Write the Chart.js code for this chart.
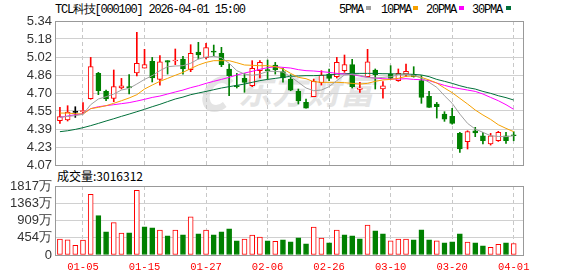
<!DOCTYPE html>
<html>
<head>
<meta charset="utf-8">
<script src="https://cdn.jsdelivr.net/npm/chart.js@4.4.1/dist/chart.umd.min.js"></script>
<style>
  body { margin: 0; background: #fff; }
  #wrap { position: relative; width: 578px; height: 276px; overflow: hidden; }
  .txt { position: absolute; white-space: nowrap; font-family: "Liberation Mono", monospace; font-size: 12px; line-height: 12px; letter-spacing: -1.2px; color: #000; }
  .sq { position: absolute; width: 5px; height: 4px; top: 6px; }
  #vol-title { position: absolute; left: 57px; top: 169px; font-family: "Noto Sans CJK SC", sans-serif; font-size: 12px; line-height: 14px; color: #000; }
  #mark { position: absolute; left: 238px; top: 70px; font-family: "Noto Sans CJK SC", sans-serif; font-weight: bold; font-size: 34px; line-height: 40px; color: #e4e4e4; font-style: italic; }
  #logo { position: absolute; left: 203px; top: 76px; width: 18px; height: 22px; border: 7px solid #e4e4e4; border-right-color: transparent; border-radius: 50%; transform: skewX(-15deg); }
  canvas { position: absolute; left: 0; }
</style>
</head>
<body>
<div id="wrap">
  <div id="logo"></div>
  <div id="mark">东方财富</div>
  <div class="txt" style="left:55px;top:4px">TCL科技[000100] 2026-04-01 15:00</div>
  <div class="txt" style="left:339px;top:4px">5PMA</div><div class="sq" style="left:366px;background:#a0a0a0"></div>
  <div class="txt" style="left:381px;top:4px">10PMA</div><div class="sq" style="left:413px;background:#f5a000"></div>
  <div class="txt" style="left:426px;top:4px">20PMA</div><div class="sq" style="left:459px;background:#ff00ff"></div>
  <div class="txt" style="left:472px;top:4px">30PMA</div><div class="sq" style="left:506px;background:#00703a"></div>
  <div id="vol-title">成交量:3016312</div>
  <canvas id="kline" width="578" height="176" style="top:0"></canvas>
  <canvas id="volume" width="578" height="106" style="top:170px"></canvas>
</div>
<script>
// trading days shown (60 bars)
const days = ['12-29','12-30','12-31','01-05','01-06','01-07','01-08','01-09','01-12','01-13',
  '01-14','01-15','01-16','01-19','01-20','01-21','01-22','01-23','01-26','01-27',
  '01-28','01-29','01-30','02-02','02-03','02-04','02-05','02-06','02-09','02-10',
  '02-11','02-12','02-13','02-24','02-25','02-26','02-27','03-02','03-03','03-04',
  '03-05','03-06','03-09','03-10','03-11','03-12','03-13','03-16','03-17','03-18',
  '03-19','03-20','03-23','03-24','03-25','03-26','03-27','03-30','03-31','04-01'];
const tickDays = ['01-05','01-15','01-27','02-06','02-26','03-10','03-20','04-01'];
const priceTicks = ['4.07','4.23','4.39','4.55','4.70','4.86','5.02','5.18','5.34'];
const volTicks = ['0','454万','909万','1363万','1817万'];
const volMax = 1817;

const open = [4.461,4.467,4.534,4.540,4.655,4.878,4.719,4.658,4.749,4.761,
  4.881,4.925,4.984,4.825,4.990,4.987,5.005,4.911,5.066,5.017,
  5.075,5.055,4.917,4.769,4.834,4.769,4.902,4.911,4.952,4.893,
  4.828,4.719,4.622,4.672,4.796,4.872,4.849,4.902,4.955,4.737,
  4.849,4.908,4.740,4.872,4.814,4.872,4.870,4.814,4.675,4.608,
  4.519,4.499,4.349,4.275,4.372,4.328,4.255,4.284,4.328,4.337];
const close = [4.496,4.537,4.534,4.549,4.937,4.725,4.652,4.761,4.769,4.749,
  4.966,4.955,4.837,4.981,4.978,4.996,4.917,5.055,5.040,5.105,
  5.066,4.955,4.858,4.761,4.799,4.922,4.975,4.902,4.911,4.837,
  4.731,4.637,4.572,4.808,4.864,4.834,4.975,4.955,4.761,4.749,
  4.981,4.867,4.769,4.834,4.878,4.896,4.850,4.666,4.578,4.584,
  4.475,4.437,4.211,4.364,4.352,4.284,4.328,4.358,4.284,4.328];
const high = [4.578,4.593,4.584,4.620,5.019,4.887,4.731,4.908,4.834,4.867,
  5.240,5.090,5.019,5.034,4.990,5.093,5.028,5.131,5.152,5.143,
  5.128,5.108,4.961,4.878,4.878,4.990,4.990,4.996,4.975,4.925,
  4.867,4.740,4.652,4.828,4.902,4.917,5.019,5.040,5.002,4.799,
  5.090,4.917,4.805,4.946,4.917,4.961,4.937,4.858,4.719,4.622,
  4.540,4.569,4.358,4.372,4.402,4.358,4.349,4.367,4.358,4.364];
const low = [4.437,4.458,4.490,4.520,4.650,4.690,4.637,4.628,4.740,4.696,
  4.855,4.925,4.802,4.775,4.872,4.955,4.872,4.893,5.005,5.005,
  5.034,4.937,4.681,4.749,4.711,4.761,4.837,4.828,4.872,4.800,
  4.725,4.608,4.572,4.672,4.775,4.814,4.837,4.887,4.749,4.711,
  4.849,4.740,4.660,4.825,4.808,4.849,4.845,4.614,4.578,4.484,
  4.455,4.431,4.181,4.211,4.320,4.255,4.246,4.278,4.260,4.284];

const ma5 = [4.490,4.499,4.505,4.517,4.602,4.652,4.672,4.696,4.731,4.746,
  4.784,4.825,4.858,4.902,4.937,4.943,4.946,4.967,5.005,5.022,
  5.028,5.017,4.967,4.902,4.872,4.861,4.872,4.896,4.896,4.890,
  4.849,4.799,4.749,4.725,4.731,4.761,4.814,4.864,4.872,4.861,
  4.843,4.837,4.843,4.849,4.864,4.867,4.861,4.837,4.799,4.755,
  4.681,4.614,4.519,4.437,4.387,4.358,4.328,4.322,4.320,4.328];
const ma10 = [4.528,4.528,4.522,4.519,4.567,4.578,4.593,4.614,4.637,4.661,
  4.690,4.740,4.775,4.808,4.834,4.861,4.887,4.920,4.952,4.975,
  4.990,4.990,4.990,4.972,4.952,4.949,4.946,4.946,4.937,4.917,
  4.878,4.843,4.831,4.805,4.799,4.799,4.799,4.796,4.790,4.784,
  4.790,4.808,4.820,4.825,4.834,4.852,4.855,4.843,4.820,4.793,
  4.749,4.708,4.658,4.608,4.555,4.511,4.472,4.425,4.393,4.364];
const ma20 = [4.490,4.502,4.514,4.522,4.567,4.584,4.593,4.602,4.611,4.620,
  4.634,4.649,4.666,4.678,4.696,4.714,4.731,4.752,4.769,4.790,
  4.808,4.825,4.843,4.864,4.881,4.896,4.914,4.928,4.937,4.931,
  4.925,4.911,4.902,4.899,4.893,4.887,4.878,4.872,4.867,4.855,
  4.843,4.837,4.831,4.828,4.828,4.831,4.825,4.822,4.814,4.793,
  4.772,4.755,4.743,4.731,4.719,4.696,4.666,4.637,4.602,4.561];
const ma30 = [4.364,4.372,4.384,4.399,4.417,4.437,4.458,4.478,4.499,4.519,
  4.540,4.561,4.584,4.605,4.629,4.652,4.669,4.690,4.705,4.719,
  4.734,4.749,4.761,4.772,4.784,4.799,4.814,4.825,4.834,4.843,
  4.852,4.855,4.858,4.858,4.861,4.864,4.872,4.875,4.878,4.878,
  4.878,4.878,4.875,4.875,4.872,4.872,4.869,4.864,4.849,4.825,
  4.808,4.790,4.769,4.752,4.740,4.719,4.702,4.681,4.664,4.643];

// volume in 万, and whether the bar is drawn as an up (red) bar
const vol = [417,399,257,390,1595,1037,612,851,576,585,
  1702,745,718,656,505,656,532,1002,558,656,
  532,612,691,372,417,523,470,372,363,399,
  346,452,292,736,443,319,656,532,505,425,
  789,638,558,372,417,417,399,665,399,372,
  319,346,558,337,319,239,204,284,319,302];
const volUp = [1,1,1,1,1,0,0,1,1,0,
  1,0,0,1,0,1,0,1,0,1,
  0,0,0,0,1,1,1,0,1,0,
  0,0,0,1,1,0,1,0,0,0,
  1,0,0,1,1,1,0,0,0,1,
  0,0,0,1,0,0,1,1,0,1];

const RED = '#ff0000', GREEN = '#008000';
const xMin = -0.64, xMax = 60.21;
const gridIdx = tickDays.map(d => days.indexOf(d));

Chart.defaults.animation = false;
Chart.defaults.events = [];
Chart.defaults.plugins.legend.display = false;
Chart.defaults.plugins.tooltip.enabled = false;

const frame = {
  id: 'frame',
  afterDraw(chart) {
    const a = chart.chartArea, c = chart.ctx;
    c.save();
    c.strokeStyle = '#999';
    c.lineWidth = 1;
    c.strokeRect(a.left + 0.5, a.top + 0.5, a.right - a.left, a.bottom - a.top);
    c.restore();
  }
};

function xScale(showLabels) {
  return {
    type: 'linear', min: xMin, max: xMax, offset: false,
    afterBuildTicks: s => { s.ticks = gridIdx.map(v => ({ value: v })); },
    grid: { color: '#c8c8c8', drawTicks: false, offset: false },
    border: { display: false, dash: [4, 3] },
    ticks: {
      display: showLabels, autoSkip: false, maxRotation: 0, padding: 6,
      color: RED, font: { family: 'Liberation Mono', size: 10.5 },
      callback: v => days[v]
    },
    afterFit: s => { s.height = showLabels ? 21 : 0; }
  };
}

function yScale(labels, lo, hi) {
  return {
    min: lo, max: hi, offset: false,
    afterBuildTicks: s => {
      s.ticks = labels.map((t, k) => ({ value: lo + k * (hi - lo) / (labels.length - 1) }));
    },
    grid: { color: '#d0d0d0', drawTicks: false },
    border: { display: false },
    ticks: {
      autoSkip: false, padding: 3, color: '#333',
      font: { family: 'Liberation Sans', size: 13 },
      callback: (v, k) => labels[k]
    },
    afterFit: s => { s.width = 55; }
  };
}

const dir = days.map((d, i) => close[i] > open[i] ? 1 : (close[i] < open[i] ? -1 : 0));
const candleCol = dir.map(d => d > 0 ? RED : (d < 0 ? GREEN : '#000'));
const candleFill = dir.map((d, i) => d > 0 ? '#fff' : candleCol[i]);
const line = (data, color) => ({
  type: 'line', data: data.map((v, i) => ({ x: i, y: v })),
  borderColor: color, borderWidth: 1, pointRadius: 0, tension: 0, order: 0
});

new Chart(document.getElementById('kline'), {
  type: 'bar',
  data: {
    datasets: [
      line(ma5, '#a0a0a0'),
      line(ma10, '#f5a000'),
      line(ma20, '#ff00ff'),
      line(ma30, '#00703a'),
      {
        data: days.map((d, i) => ({ x: i, y: [open[i], close[i]] })),
        backgroundColor: candleFill, borderColor: candleCol, borderWidth: 1,
        borderSkipped: false, barThickness: 5, minBarLength: 1, grouped: false, order: 1
      },
      {
        data: days.map((d, i) => ({ x: i, y: [low[i], high[i]] })),
        backgroundColor: candleCol, borderWidth: 0,
        barThickness: 1, grouped: false, order: 2
      }
    ]
  },
  options: {
    responsive: false,
    layout: { padding: { left: 0, right: 55, top: 21, bottom: 11 } },
    scales: {
      x: xScale(false),
      y: yScale(priceTicks, +priceTicks[0], +priceTicks[priceTicks.length - 1])
    }
  },
  plugins: [frame]
});

new Chart(document.getElementById('volume'), {
  type: 'bar',
  data: {
    datasets: [{
      data: vol.map((v, i) => ({ x: i, y: v })),
      backgroundColor: volUp.map(u => u ? '#fff' : GREEN),
      borderColor: volUp.map(u => u ? RED : GREEN),
      borderWidth: 1, borderSkipped: false, barThickness: 5, grouped: false
    }]
  },
  options: {
    responsive: false,
    layout: { padding: { left: 0, right: 55, top: 16, bottom: 0 } },
    scales: {
      x: xScale(true),
      y: yScale(volTicks, 0, volMax)
    }
  },
  plugins: [frame]
});
</script>
</body>
</html>
